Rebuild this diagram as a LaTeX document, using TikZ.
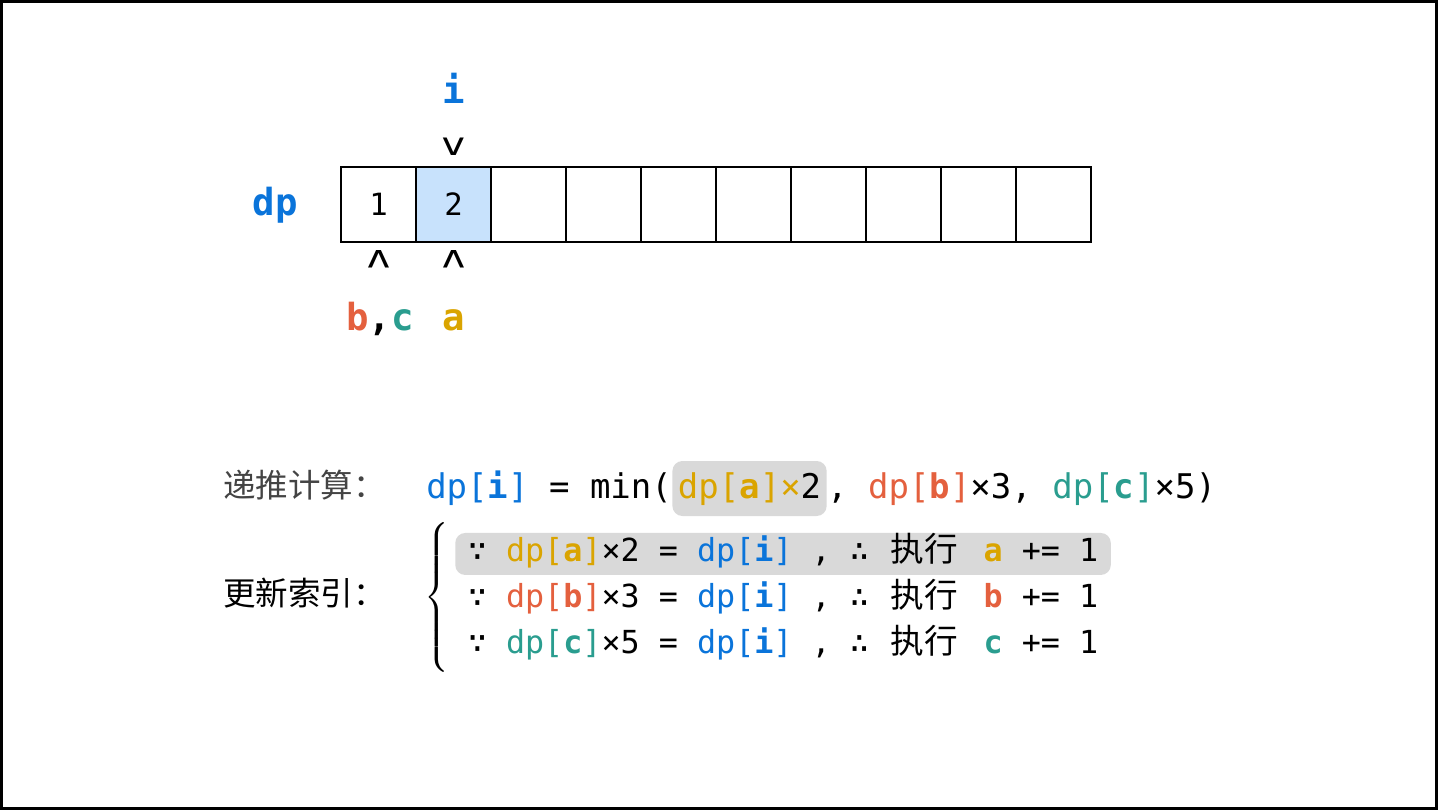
\documentclass[tikz,border=0pt]{standalone}
\usepackage{exscale}
\usepackage{fontspec}
\setmainfont{DejaVu Sans Mono}
\newfontfamily\cjk{Noto Sans CJK SC}
\newfontfamily\cjkwide[Scale=1.06]{Noto Sans CJK SC}
\usetikzlibrary{positioning}
\frenchspacing

\definecolor{iBlue}{RGB}{10,116,218}
\definecolor{aGold}{RGB}{218,164,0}
\definecolor{bRed}{RGB}{228,96,62}
\definecolor{cTeal}{RGB}{42,157,143}
\definecolor{hlGray}{RGB}{217,217,217}
\definecolor{curBlue}{RGB}{200,226,252}
\definecolor{labGray}{RGB}{68,68,68}

\newcommand{\dpref}[2]{{\color{#1}dp[\textbf{#2}]}}
\newcommand{\wide}[1]{\makebox[4\fontcharwd\font`0][l]{\hspace{2pt}\cjkwide #1}}

\begin{document}
\begin{tikzpicture}
[x=0.75pt,y=-0.75pt,
  cellDecorate/.style={draw,line width=1.5pt,minimum size=56.25pt,inner sep=0pt,font=\fontsize{23}{26}\selectfont},
  ptrDecorate/.style={inner sep=0pt,font=\fontsize{24}{26}\selectfont},
  nameDecorate/.style={anchor=base,inner sep=0pt,font=\fontsize{28}{32}\selectfont\bfseries},
  labelDecorate/.style={anchor=base west,inner sep=0pt,font=\fontsize{24.4}{28}\selectfont\cjk},
  recDecorate/.style={anchor=base west,inner sep=0pt,font=\fontsize{25.5}{30}\selectfont},
  rowDecorate/.style={anchor=base west,inner xsep=9.4pt,inner ysep=3pt,text height=18.4pt,text depth=7.1pt,font=\fontsize{23.8}{28}\selectfont},
  hlDecorate/.style={fill=hlGray,rounded corners=7.5pt},
  plainRow/.style={}]
%% frame
\useasboundingbox (0,0) rectangle (1438,810);
\draw[line width=2.25pt] (1.5,1.5) rectangle (1436.5,808.5);
%% dp cells
\foreach \nodename/\val/\bg in {
  0/1/white, 1/2/curBlue, 2/{}/white, 3/{}/white, 4/{}/white,
  5/{}/white, 6/{}/white, 7/{}/white, 8/{}/white, 9/{}/white}
{
  \node[cellDecorate,fill=\bg] (cell\nodename) at (378.5+75*\nodename,204.5) {\val};
}
\node[nameDecorate,text=iBlue] (dpName) at (275,215) {dp};
%% pointers
\node[ptrDecorate,above=7.5pt of cell1] (ptrI) {\scalebox{1.3}[1]{v}};
\node[nameDecorate,text=iBlue] (nameI) at (453.5,103) {i};
\node[ptrDecorate,rotate=180] (ptrBC) at (378.5,259) {\scalebox{1.3}[1]{v}};
\node[ptrDecorate,rotate=180] (ptrA) at (453.5,259) {\scalebox{1.3}[1]{v}};
\node[nameDecorate] (nameBC) at (380,330) {{\color{bRed}b},{\color{cTeal}c}};
\node[nameDecorate,text=aGold] (nameA) at (453.5,330) {a};
%% recurrence
\node[labelDecorate,text=labGray] (recLabel) at (223,497.5) {递推计算：};
\node[recDecorate] (recA) at (426,498) {\dpref{iBlue}{i} = min(};
\node[recDecorate,hlDecorate,inner xsep=4.1pt,inner ysep=5.25pt,text height=22.5pt,text depth=8.25pt]
  (recB) at (recA.base east) {{\color{aGold}dp[\textbf{a}]×}2};
\node[recDecorate] (recC) at (recB.base east) {, \dpref{bRed}{b}×3, \dpref{cTeal}{c}×5)};
%% index update
\node[labelDecorate] (updLabel) at (223,605) {更新索引：};
\node[font=\fontsize{22}{22}\selectfont,inner sep=0pt] (brace) at (437.5,597.5)
  {$\left\{\rule[-50pt]{0pt}{100pt}\right.$};
\foreach \nodename/\y/\clr/\ltr/\fac/\sty in {
  updA/561.5/aGold/a/2/hlDecorate, updB/607.5/bRed/b/3/plainRow, updC/653.5/cTeal/c/5/plainRow}
{
  \node[rowDecorate,\sty] (\nodename) at (455,\y)
    {∵ \dpref{\clr}{\ltr}×\fac{} = \dpref{iBlue}{i} , ∴ \wide{执行} {\color{\clr}\bfseries\ltr} += 1};
}
\end{tikzpicture}
\end{document}
